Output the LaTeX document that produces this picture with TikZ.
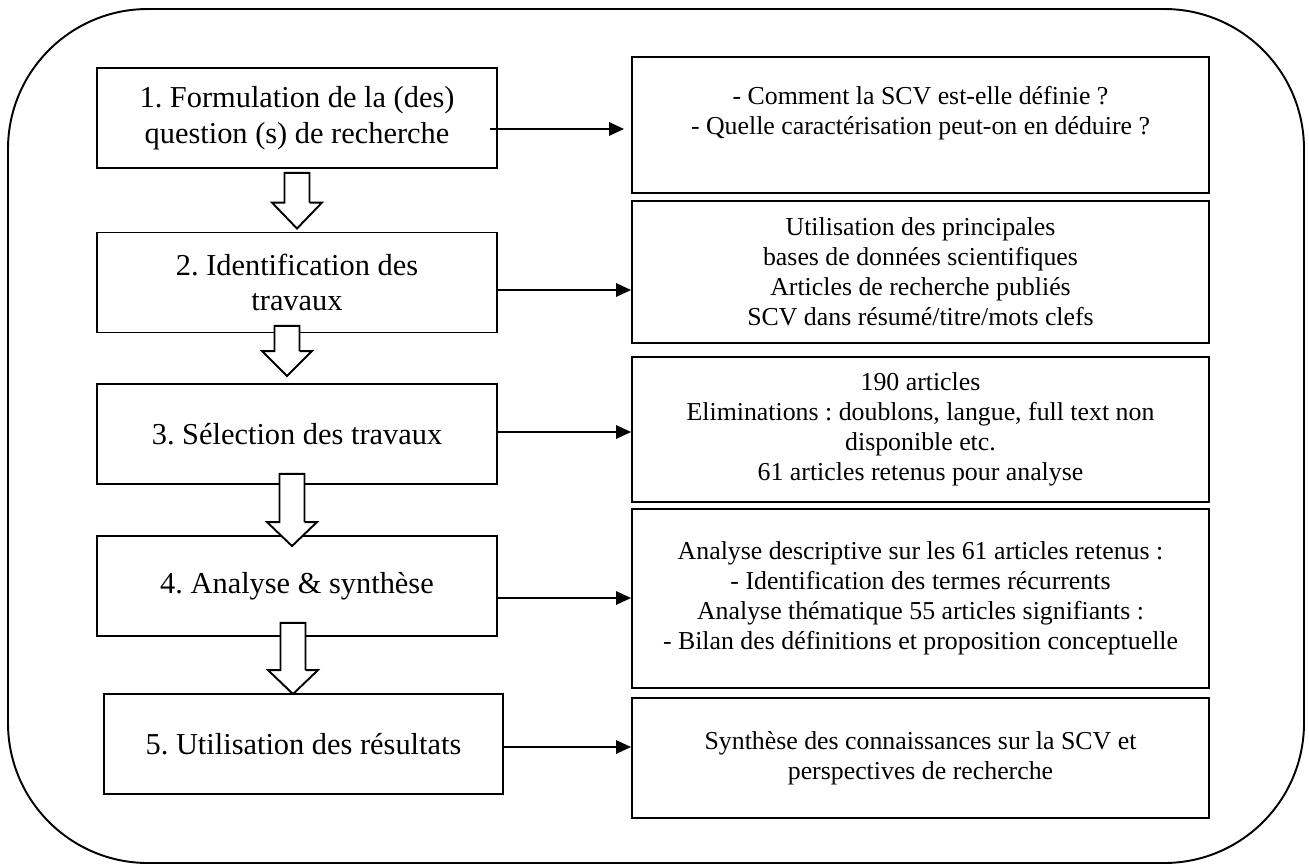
\documentclass[tikz,border=0pt]{standalone}
\usepackage{fontspec}
\setmainfont{Liberation Serif}
\frenchspacing
\usetikzlibrary{positioning,calc,arrows.meta}

\begin{document}
\begin{tikzpicture}[x=0.02cm,y=-0.02cm,
    stepbox/.style={draw,line width=1.1pt,minimum width=8cm,minimum height=2cm,align=center,
      font=\fontsize{17.3pt}{20.4pt}\selectfont},
    infobox/.style={draw,line width=1.1pt,minimum width=11.54cm,align=center,
      font=\fontsize{14.7pt}{17pt}\selectfont},
    link/.style={line width=1.3pt,-{Triangle[length=8.5pt,width=7.5pt]}},
    bigarrow/.style={draw,fill=white,line width=1.1pt,line join=miter}]
  \useasboundingbox (0,0) rectangle (1309,866);
  \draw[line width=1.1pt,rounded corners=2.8cm] (8,9) rectangle (1304,863);

  % steps
  \node[stepbox] (b1) at (297,118)   {1. Formulation de la (des)\\question (s) de recherche};
  \node[stepbox] (b2) at (297,282.5) {2. Identification des\\travaux};
  \node[stepbox] (b3) at (297,434)   {3. Sélection des travaux};
  \node[stepbox] (b4) at (297,586)   {4. Analyse \& synthèse};
  \node[stepbox] (b5) at (303.5,744) {5. Utilisation des résultats};

  % details
  \node[infobox,minimum height=2.72cm] (r1) at (920.5,125)
    {- Comment la SCV est-elle définie ?\\- Quelle caractérisation peut-on en déduire ?\\\mbox{}};
  \node[infobox,minimum height=2.84cm] (r2) at (920.5,272)
    {Utilisation des principales\\bases de données scientifiques\\Articles de recherche publiés\\SCV dans résumé/titre/mots clefs};
  \node[infobox,minimum height=2.9cm]  (r3) at (920.5,429.5)
    {190 articles\\Eliminations : doublons, langue, full text non\\disponible etc.\\61 articles retenus pour analyse};
  \node[infobox,minimum height=3.58cm] (r4) at (920.5,598.5)
    {Analyse descriptive sur les 61 articles retenus :\\- Identification des termes récurrents\\Analyse thématique 55 articles signifiants :\\- Bilan des définitions et proposition conceptuelle};
  \node[infobox,minimum height=2.4cm]  (r5) at (920.5,758)
    {Synthèse des connaissances sur la SCV et\\perspectives de recherche};

  % links
  \draw[link,shorten >=4pt] ($(b1.east)+(-8,11)$) coordinate (s1) -- (s1 -| r1.west);
  \draw[link] ($(b2.east)+(0,7.5)$) coordinate (s2) -- (s2 -| r2.west);
  \draw[link] ($(b3.east)+(0,-2)$)  coordinate (s3) -- (s3 -| r3.west);
  \draw[link] ($(b4.east)+(0,12)$)  coordinate (s4) -- (s4 -| r4.west);
  \draw[link] ($(b5.east)+(-1,3)$)  coordinate (s5) -- (s5 -| r5.west);

  % block arrows
  \draw[bigarrow] ($(b1.south)+(-12.5,4)$) -- ++(25,0) |- ($(b2.north)+(12.5,-29)$) -- ++(12.5,0)
    -- ($(b2.north)+(0,-3)$) -- ++(-25,-26) -- ++(12.5,0) -- cycle;
  \draw[bigarrow] ($(b2.south)+(-22.5,-7.5)$) -- ++(25,0) |- ($(b3.north)+(2.5,-32)$) -- ++(12.5,0)
    -- ($(b3.north)+(-10,-7)$) -- ++(-25,-25) -- ++(12.5,0) -- cycle;
  \draw[bigarrow] ($(b3.south)+(-17.5,-11)$) -- ++(25,0) |- ($(b4.north)+(7.5,-13)$) -- ++(12.5,0)
    -- ($(b4.north)+(-5,11)$) -- ++(-25,-24) -- ++(12.5,0) -- cycle;
  \draw[bigarrow] ($(b4.south)+(-16.5,-14)$) -- ++(25,0) |- ($(b5.north)+(2,-23)$) -- ++(12.5,0)
    -- ($(b5.north)+(-10.5,1)$) -- ++(-25,-24) -- ++(12.5,0) -- cycle;
\end{tikzpicture}
\end{document}
